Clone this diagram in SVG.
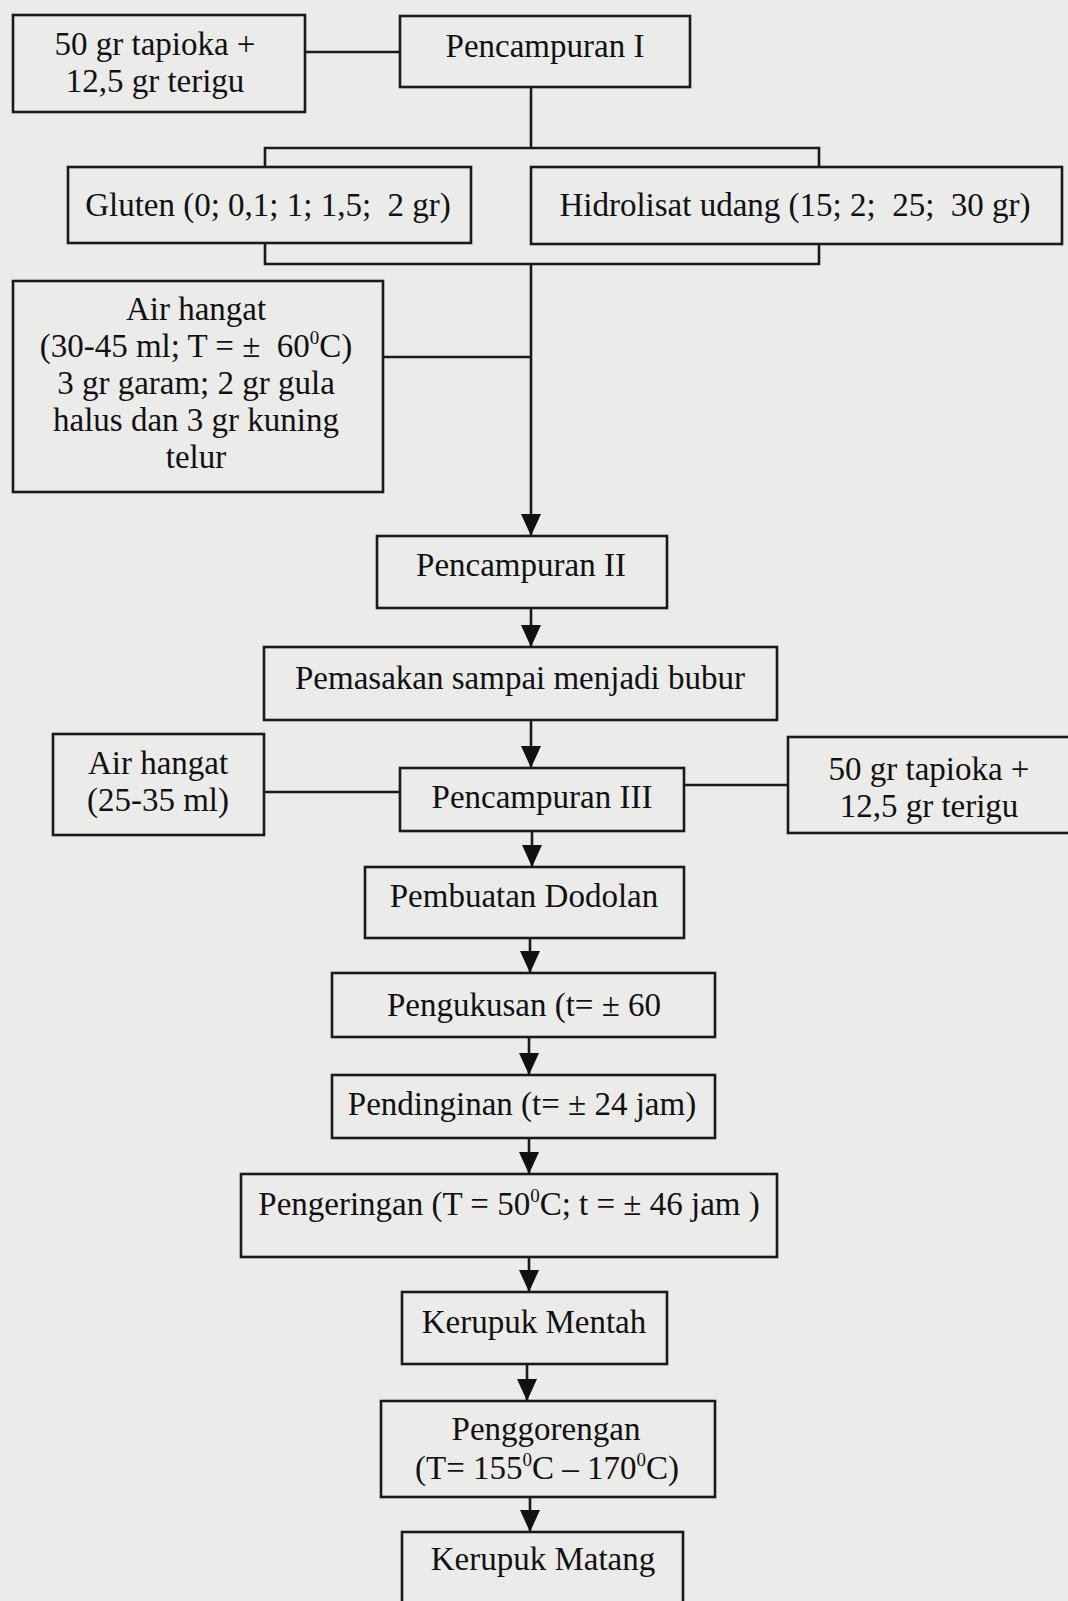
<svg xmlns="http://www.w3.org/2000/svg" width="1068" height="1601" viewBox="0 0 1068 1601">
<defs>
<marker id="arr" viewBox="0 0 22 20" refX="22" refY="10" markerWidth="22" markerHeight="20" orient="auto" markerUnits="userSpaceOnUse">
<path d="M0,0 L22,10 L0,20 Z" fill="#111"/>
</marker>
</defs>
<style>
.bx{fill:none;stroke:#1a1a1a;stroke-width:2.6}
.ln{fill:none;stroke:#1a1a1a;stroke-width:2.6}
text{font-family:"Liberation Serif","Times New Roman",serif;font-size:33px;fill:#111;text-anchor:middle;white-space:pre}
.sup{font-size:19px}
</style>
<rect width="1068" height="1601" fill="#ebebea"/>
<g id="connectors">
<line class="ln" x1="305" y1="52" x2="400" y2="52"/>
<line class="ln" x1="531" y1="87" x2="531" y2="148"/>
<polyline class="ln" points="265,167 265,148 819,148 819,167"/>
<polyline class="ln" points="265,243 265,264 819,264 819,244"/>
<line class="ln" x1="531" y1="264" x2="531" y2="536" marker-end="url(#arr)"/>
<line class="ln" x1="383" y1="357" x2="531" y2="357"/>
<line class="ln" x1="531" y1="608" x2="531" y2="647" marker-end="url(#arr)"/>
<line class="ln" x1="531" y1="720" x2="531" y2="768" marker-end="url(#arr)"/>
<line class="ln" x1="264" y1="792" x2="400" y2="792"/>
<line class="ln" x1="684" y1="785" x2="788" y2="785"/>
<line class="ln" x1="532" y1="831" x2="532" y2="867" marker-end="url(#arr)"/>
<line class="ln" x1="530" y1="938" x2="530" y2="973" marker-end="url(#arr)"/>
<line class="ln" x1="529" y1="1037" x2="529" y2="1075" marker-end="url(#arr)"/>
<line class="ln" x1="529" y1="1138" x2="529" y2="1174" marker-end="url(#arr)"/>
<line class="ln" x1="529" y1="1257" x2="529" y2="1292" marker-end="url(#arr)"/>
<line class="ln" x1="527" y1="1364" x2="527" y2="1401" marker-end="url(#arr)"/>
<line class="ln" x1="530" y1="1497" x2="530" y2="1532" marker-end="url(#arr)"/>
</g>
<g id="n_tapioka1">
<rect class="bx" x="13" y="15" width="292" height="97"/>
<text x="155" y="55">50 gr tapioka +</text>
<text x="155" y="92">12,5 gr terigu</text>
</g>
<g id="n_pencampuran1">
<rect class="bx" x="400" y="16" width="290" height="71"/>
<text x="545" y="57">Pencampuran I</text>
</g>
<g id="n_gluten">
<rect class="bx" x="68" y="167" width="403" height="76"/>
<text x="268" y="216">Gluten (0; 0,1; 1; 1,5;  2 gr)</text>
</g>
<g id="n_hidrolisat">
<rect class="bx" x="531" y="167" width="531" height="77"/>
<text x="795" y="216">Hidrolisat udang (15; 2;  25;  30 gr)</text>
</g>
<g id="n_airhangat1">
<rect class="bx" x="13" y="281" width="370" height="211"/>
<text x="196" y="320">Air hangat</text>
<text x="196" y="357">(30-45 ml; T = ±  60<tspan class="sup" dy="-13">0</tspan><tspan dy="13">C)</tspan></text>
<text x="196" y="394">3 gr garam; 2 gr gula</text>
<text x="196" y="431">halus dan 3 gr kuning</text>
<text x="196" y="468">telur</text>
</g>
<g id="n_pencampuran2">
<rect class="bx" x="377" y="536" width="290" height="72"/>
<text x="521" y="576">Pencampuran II</text>
</g>
<g id="n_pemasakan">
<rect class="bx" x="264" y="647" width="513" height="73"/>
<text x="520" y="689">Pemasakan sampai menjadi bubur</text>
</g>
<g id="n_airhangat2">
<rect class="bx" x="53" y="734" width="211" height="101"/>
<text x="158" y="774">Air hangat</text>
<text x="158" y="811">(25-35 ml)</text>
</g>
<g id="n_pencampuran3">
<rect class="bx" x="400" y="768" width="284" height="63"/>
<text x="542" y="808">Pencampuran III</text>
</g>
<g id="n_tapioka2">
<rect class="bx" x="788" y="737" width="300" height="96"/>
<text x="929" y="780">50 gr tapioka +</text>
<text x="929" y="817">12,5 gr terigu</text>
</g>
<g id="n_dodolan">
<rect class="bx" x="365" y="867" width="319" height="71"/>
<text x="524" y="907">Pembuatan Dodolan</text>
</g>
<g id="n_pengukusan">
<rect class="bx" x="332" y="973" width="383" height="64"/>
<text x="524" y="1016">Pengukusan (t= ± 60</text>
</g>
<g id="n_pendinginan">
<rect class="bx" x="332" y="1075" width="383" height="63"/>
<text x="522" y="1115">Pendinginan (t= ± 24 jam)</text>
</g>
<g id="n_pengeringan">
<rect class="bx" x="241" y="1174" width="536" height="83"/>
<text x="509" y="1215">Pengeringan (T = 50<tspan class="sup" dy="-13">0</tspan><tspan dy="13">C; t = ± 46 jam )</tspan></text>
</g>
<g id="n_mentah">
<rect class="bx" x="402" y="1292" width="265" height="72"/>
<text x="534" y="1333">Kerupuk Mentah</text>
</g>
<g id="n_penggorengan">
<rect class="bx" x="381" y="1401" width="334" height="96"/>
<text x="546" y="1440">Penggorengan</text>
<text x="547" y="1479">(T= 155<tspan class="sup" dy="-13">0</tspan><tspan dy="13">C – 170</tspan><tspan class="sup" dy="-13">0</tspan><tspan dy="13">C)</tspan></text>
</g>
<g id="n_matang">
<rect class="bx" x="402" y="1532" width="281" height="90"/>
<text x="543" y="1570">Kerupuk Matang</text>
</g>
</svg>
